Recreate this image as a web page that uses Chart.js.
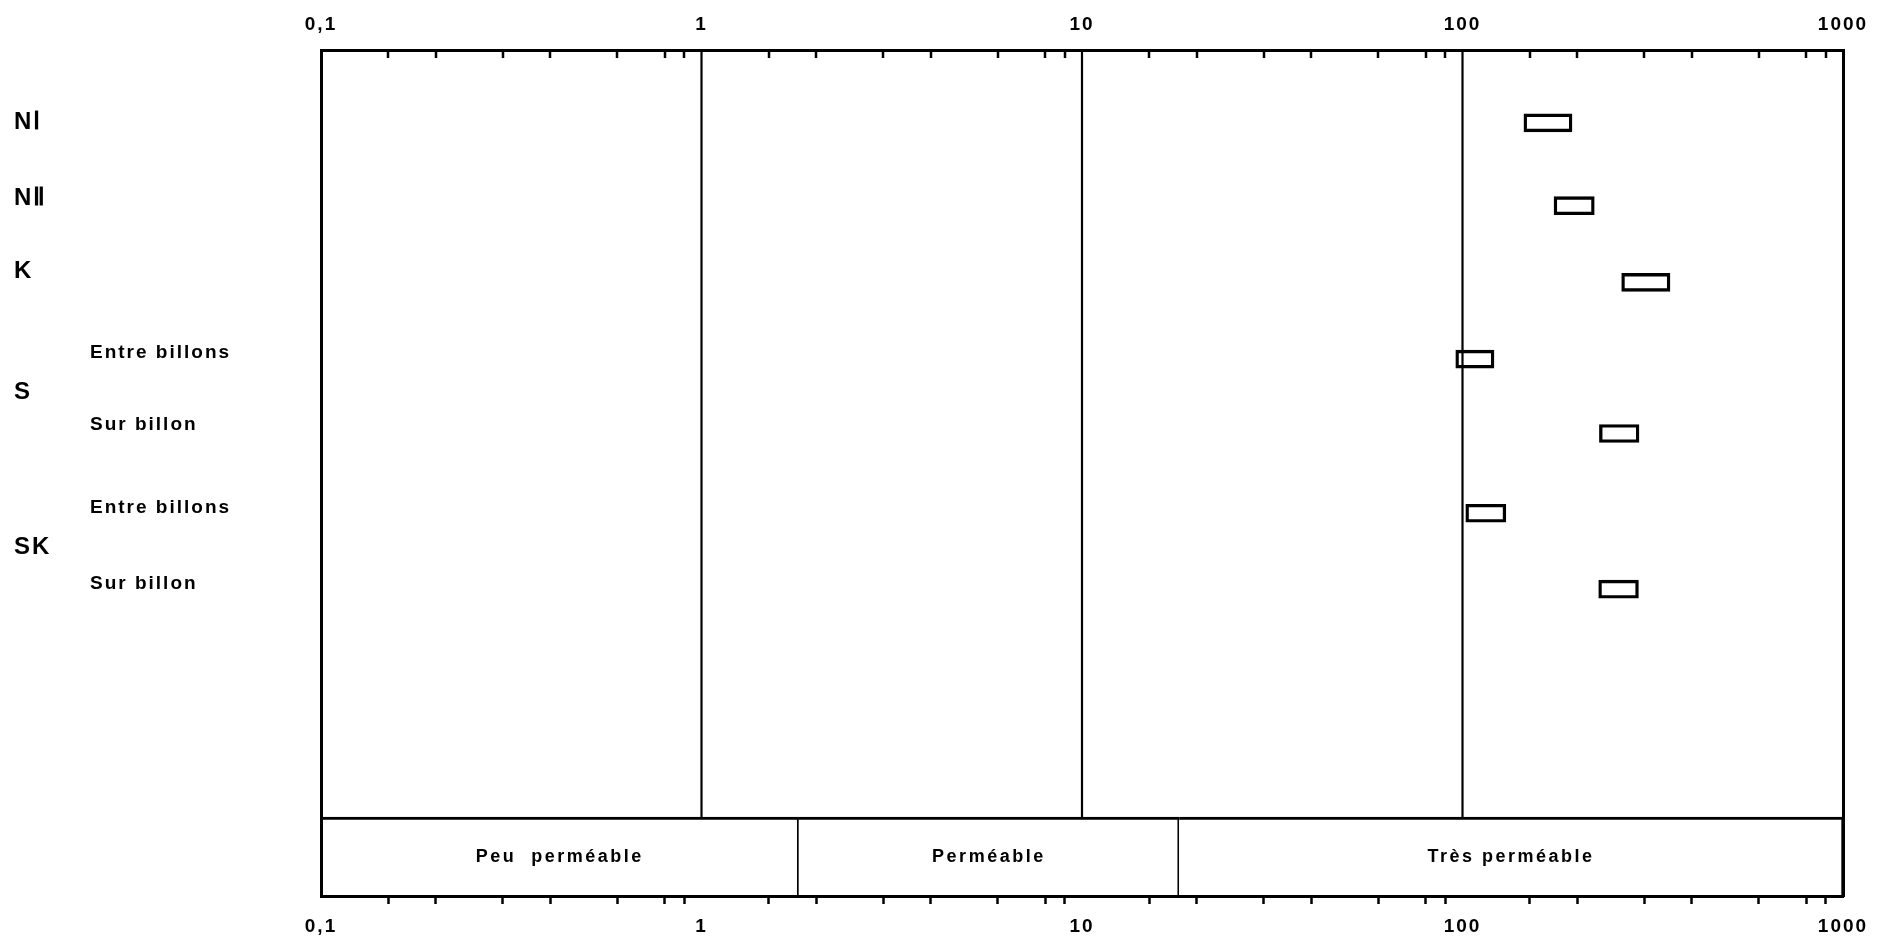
<!DOCTYPE html>
<html lang="fr">
<head>
<meta charset="utf-8">
<title>Perméabilité</title>
<script src="https://cdn.jsdelivr.net/npm/chart.js@4.4.1/dist/chart.umd.min.js"></script>
<style>
  html, body { margin: 0; padding: 0; background: #fff; }
  canvas { display: block; }
</style>
</head>
<body>
<canvas id="chart" width="1881" height="945"></canvas>
<script>
const rowNames = ['NI', 'NII', 'K', 'S entre billons', 'S sur billon', 'SK entre billons', 'SK sur billon'];
const rowPos   = [9.05, 7.97, 6.97, 5.97, 5.00, 3.96, 2.97];
const kMin     = [145, 174, 262, 96, 229, 102, 228];
const kMax     = [194, 222, 351, 121, 291, 130, 290];

// libellés de l'axe vertical
const mainLabels = ['N\u2160', 'N\u2161', 'K', 'S', 'SK'];
const mainPos    = [9.06, 8.07, 7.12, 5.53, 3.51];
const subLabels  = ['Entre billons', 'Sur billon', 'Entre billons', 'Sur billon'];
const subPos     = [6.05, 5.12, 4.03, 3.04];

// classes de perméabilité (bandeau du bas)
const classNames  = ['Peu  perméable', 'Perméable', 'Très perméable'];
const classLimits = [0.1, 1.8, 18, 1000];

// graduations
const decades      = [0.1, 1, 10, 100, 1000];
const decadeLabels = ['0,1', '1', '10', '100', '1000'];
const minorSteps   = [1.5, 2, 3, 4, 6, 8, 9];
const dividers     = [1, 10, 100];

const minorTicks = decades.slice(0, -1).flatMap(d => minorSteps.map(s => +(d * s).toPrecision(3)));
const xTicks = decades.concat(minorTicks).sort((a, b) => a - b);

const yMin = -1.03, yMax = 10, bandPos = -0.515;
const black = '#000';
const sans = '"Liberation Sans", Arial, sans-serif';

function setXTicks(scale) {
    scale.ticks = xTicks.map(v => ({ value: v }));
}
function xLabel(value) {
    const i = decades.indexOf(value);
    return i >= 0 ? decadeLabels[i] : '';
}

// petites graduations vers l'intérieur, en haut du cadre
const topTicks = {
    id: 'topTicks',
    afterDraw(chart) {
        const sc = chart.scales.x2;
        const top = chart.chartArea.top;
        const ctx = chart.ctx;
        ctx.save();
        ctx.strokeStyle = black;
        ctx.lineWidth = 2.5;
        minorTicks.forEach(v => {
            const px = Math.round(sc.getPixelForValue(v));
            ctx.beginPath();
            ctx.moveTo(px, top);
            ctx.lineTo(px, top + 8);
            ctx.stroke();
        });
        ctx.restore();
    }
};

// texte des classes au centre des cases du bandeau
const classText = {
    id: 'classText',
    afterDatasetsDraw(chart) {
        const meta = chart.getDatasetMeta(1);
        const ctx = chart.ctx;
        ctx.save();
        ctx.letterSpacing = '2.5px';
        ctx.font = 'bold 18px ' + sans;
        ctx.fillStyle = black;
        ctx.textAlign = 'center';
        ctx.textBaseline = 'middle';
        meta.data.forEach((bar, i) => {
            ctx.fillText(classNames[i], (bar.x + bar.base) / 2, bar.y + 1);
        });
        ctx.restore();
    }
};

// lettrage un peu espacé, comme sur l'original
const spacing = {
    id: 'spacing',
    beforeDraw(chart) { chart.ctx.letterSpacing = '2px'; }
};

new Chart(document.getElementById('chart').getContext('2d'), {
    type: 'bar',
    data: {
        datasets: [
            {
                type: 'bar',
                label: 'Perméabilité',
                data: rowPos.map((p, i) => ({ x: [kMin[i], kMax[i]], y: p })),
                backgroundColor: 'rgba(0,0,0,0)',
                borderColor: black,
                borderWidth: 2.7,
                borderSkipped: false,
                barThickness: 18,
                grouped: false,
                xAxisID: 'x',
                yAxisID: 'y'
            },
            {
                type: 'bar',
                label: 'Classes',
                data: classNames.map((n, i) => ({ x: [classLimits[i], classLimits[i + 1]], y: bandPos })),
                backgroundColor: '#fff',
                borderColor: black,
                borderWidth: { top: 3, right: 2, bottom: 0, left: 0 },
                borderSkipped: false,
                barThickness: 79,
                grouped: false,
                xAxisID: 'x',
                yAxisID: 'y'
            },
            ...dividers.map(d => ({
                type: 'line',
                label: String(d),
                data: [{ x: d, y: 0 }, { x: d, y: yMax }],
                borderColor: black,
                borderWidth: 2.2,
                pointRadius: 0,
                xAxisID: 'x',
                yAxisID: 'y'
            }))
        ]
    },
    options: {
        indexAxis: 'y',
        responsive: false,
        animation: false,
        layout: { padding: { left: 14, right: 0, top: 0, bottom: 0 } },
        plugins: {
            legend: { display: false },
            tooltip: { enabled: false }
        },
        scales: {
            x: {
                type: 'logarithmic',
                position: 'bottom',
                min: 0.1,
                max: 1000,
                offset: false,
                beginAtZero: false,
                afterBuildTicks: setXTicks,
                afterFit(scale) { scale.height = 49; },
                grid: {
                    offset: false,
                    drawOnChartArea: false,
                    drawTicks: true,
                    tickLength: 8,
                    tickWidth: 2.5,
                    tickColor: ctx => (ctx.tick && decades.includes(ctx.tick.value)) ? 'rgba(0,0,0,0)' : black
                },
                border: { display: true, color: black, width: 3, z: 1 },
                ticks: {
                    autoSkip: false,
                    maxRotation: 0,
                    padding: 11,
                    color: black,
                    font: { family: sans, weight: 'bold', size: 19 },
                    callback: xLabel
                }
            },
            x2: {
                type: 'logarithmic',
                axis: 'x',
                position: 'top',
                min: 0.1,
                max: 1000,
                offset: false,
                beginAtZero: false,
                afterBuildTicks: setXTicks,
                afterFit(scale) { scale.height = 50; },
                grid: { display: false, offset: false },
                border: { display: true, color: black, width: 3, z: 1 },
                ticks: {
                    autoSkip: false,
                    maxRotation: 0,
                    padding: 6,
                    color: black,
                    font: { family: sans, weight: 'bold', size: 19 },
                    callback: xLabel
                }
            },
            y: {
                type: 'linear',
                position: 'left',
                min: yMin,
                max: yMax,
                offset: false,
                afterBuildTicks(scale) { scale.ticks = subPos.map(v => ({ value: v })); },
                afterFit(scale) { scale.width = 231; },
                grid: { display: false, offset: false },
                border: { display: true, color: black, width: 3, z: 1 },
                ticks: {
                    autoSkip: false,
                    crossAlign: 'far',
                    padding: 0,
                    color: black,
                    font: { family: sans, weight: 'bold', size: 19 },
                    callback: (value, index) => subLabels[index]
                }
            },
            yMain: {
                type: 'linear',
                axis: 'y',
                position: 'left',
                weight: 1,
                min: yMin,
                max: yMax,
                offset: false,
                afterBuildTicks(scale) { scale.ticks = mainPos.map(v => ({ value: v })); },
                afterFit(scale) { scale.width = 76; },
                grid: { display: false, offset: false },
                border: { display: false },
                ticks: {
                    autoSkip: false,
                    crossAlign: 'far',
                    padding: 0,
                    color: black,
                    font: { family: sans, weight: 'bold', size: 24 },
                    callback: (value, index) => mainLabels[index]
                }
            },
            yR: {
                type: 'linear',
                axis: 'y',
                position: 'right',
                min: yMin,
                max: yMax,
                offset: false,
                afterFit(scale) { scale.width = 38; },
                grid: { display: false, offset: false },
                border: { display: true, color: black, width: 3, z: 1 },
                ticks: { display: false }
            }
        }
    },
    plugins: [spacing, topTicks, classText]
});
</script>
</body>
</html>
